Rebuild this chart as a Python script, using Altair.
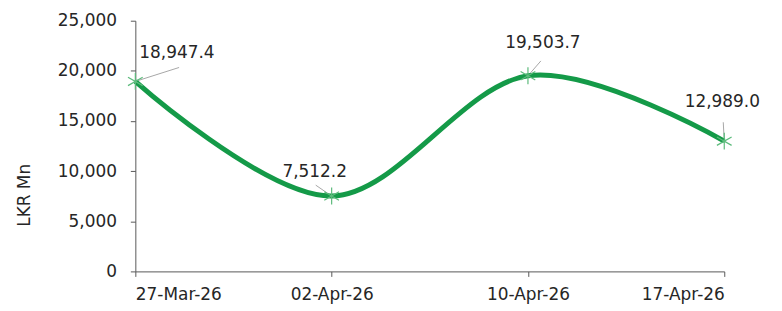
import json
import altair as alt
import pandas as pd

# ---- data ----
dates = ["27-Mar-26", "02-Apr-26", "10-Apr-26", "17-Apr-26"]
values = [18947.4, 7512.2, 19503.7, 12989.0]
labels = ["18,947.4", "7,512.2", "19,503.7", "12,989.0"]
y_ticks = [0, 5000, 10000, 15000, 20000, 25000]

df = pd.DataFrame({"idx": list(range(len(dates))), "date": dates,
                   "value": values, "label": labels})

# ---- style (label / leader offsets in pixels) ----
label_dx = [4, -17, 15, -2]
label_dy = [-29, -24, -33, -39]
label_align = ["left", "center", "center", "center"]
leader_dx = [44, -16, 13, -1]
leader_dy = [-14, -11, -15, -19]

FONT = "DejaVu Sans"
TXT = "#262626"
AX = "#595959"
GREEN = "#149a48"
MARK = "#5dbb7c"

label_expr = json.dumps(dates) + "[datum.value]"

x = alt.X("idx:Q",
          scale=alt.Scale(domain=[0, 3], nice=False, zero=False),
          axis=alt.Axis(values=[0, 1, 2, 3], labelExpr=label_expr, title=None,
                        grid=False, ticks=True, tickSize=5, tickColor=AX,
                        domainColor=AX, labelFont=FONT, labelFontSize=17,
                        labelColor=TXT, labelPadding=10))
y = alt.Y("value:Q",
          scale=alt.Scale(domain=[0, 25000], nice=False),
          axis=alt.Axis(values=y_ticks, format=",.0f",
                        title="LKR Mn", grid=False, tickSize=5, tickColor=AX,
                        domainColor=AX, labelFont=FONT, labelFontSize=17,
                        labelColor=TXT, labelPadding=14,
                        titleFont=FONT, titleFontSize=17, titleFontWeight="normal",
                        titleColor=TXT, titleX=-111, titleY=175, titleAngle=270,
                        titleAlign="center", titleBaseline="middle"))

base = alt.Chart(df)

layers = []
for i in range(len(dates)):
    layers.append(
        base.transform_filter(alt.datum.idx == i)
        .mark_rule(color="#a6a6a6", strokeWidth=1,
                   x2Offset=leader_dx[i], y2Offset=leader_dy[i])
        .encode(x=x, y=y, x2=alt.X2("idx"), y2=alt.Y2("value"))
    )

line = base.mark_line(interpolate="cardinal", color=GREEN, strokeWidth=5).encode(x=x, y=y)

star = "M0,-1L0,1M-0.87,-0.5L0.87,0.5M-0.87,0.5L0.87,-0.5"
points = base.mark_point(shape=star, size=289, filled=False, stroke=MARK,
                         strokeWidth=1.2, opacity=1).encode(x=x, y=y)

texts = []
for i in range(len(dates)):
    texts.append(
        base.transform_filter(alt.datum.idx == i)
        .mark_text(dx=label_dx[i], dy=label_dy[i], align=label_align[i],
                   baseline="middle", font=FONT, fontSize=17, color=TXT)
        .encode(x=x, y=y, text="label:N")
    )

chart = alt.layer(*layers, line, points, *texts).properties(
    width=592, height=252,
    autosize=alt.AutoSizeParams(type="none"),
    padding={"left": 128, "top": 12, "right": 50, "bottom": 35},
    background="white",
).configure_view(stroke=None)

chart.save("out.html", embed_options={"renderer": "svg", "actions": False})
